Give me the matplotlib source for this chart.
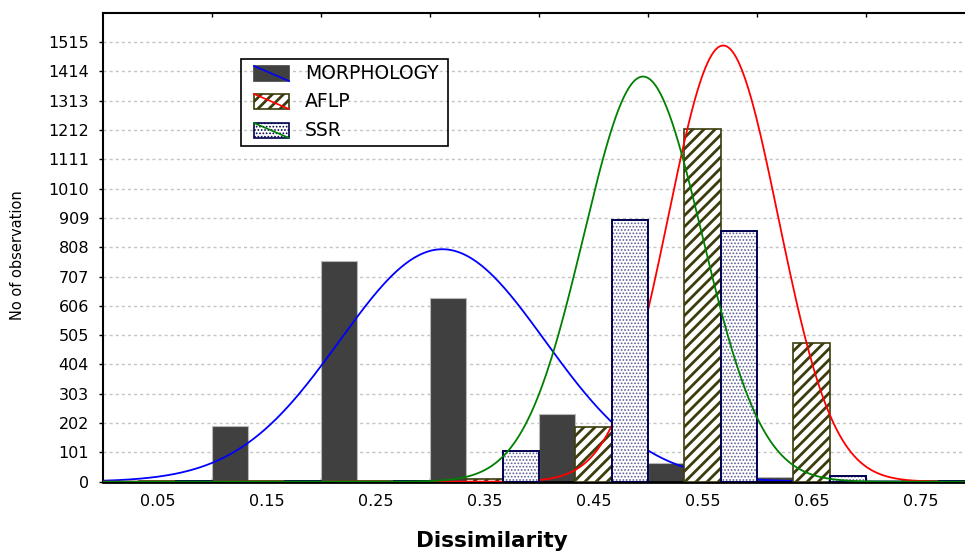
import numpy as np
import matplotlib
matplotlib.use('Agg')
import matplotlib.pyplot as plt
from matplotlib.patches import Rectangle
from matplotlib.lines import Line2D

plt.rcParams['font.family'] = ['DejaVu Sans']

# histogram bins (left edge, width 0.1) and their labels
bin_left = [0.0, 0.1, 0.2, 0.3, 0.4, 0.5, 0.6, 0.7]
bin_labels = ['0.05', '0.15', '0.25', '0.35', '0.45', '0.55', '0.65', '0.75']

# counts
morphology = [3, 191, 762, 632, 232, 64, 15, 6]
aflp = [1, 1, 1, 10, 188, 1215, 478, 2]
ssr = [1, 1, 1, 105, 900, 864, 20, 2]

# fitted normal curves: mean, sd, peak height
morph_fit = (0.3113, 0.0942, 801)
aflp_fit = (0.569, 0.0505, 1503)
ssr_fit = (0.4954, 0.0545, 1396)

yticks = list(range(0, 1516, 101))

W, H = 965, 554
MORPH_C, AFLP_C, SSR_EDGE, SSR_DOT = '#404040', '#3c3c0c', '#000050', '#5c5c96'
AFLP_HLW, SSR_HLW = 2.0, 0.8


def set_hatch_lw(patches, lw):
    for p in patches:
        if hasattr(p, 'set_hatch_linewidth'):
            p.set_hatch_linewidth(lw)


def normal_curve(x, fit):
    mu, sd, peak = fit
    return peak * np.exp(-0.5 * ((x - mu) / sd) ** 2)


def fig_xy(x, y):
    return x / W, 1 - y / H


fig = plt.figure(figsize=(W / 100, H / 100), dpi=100)
ax = fig.add_axes([103 / W, 1 - 481.7 / H, 872 / W, 469 / H])

bw = 0.1 / 3
left = np.array(bin_left)
xs = np.linspace(0, 0.8, 600)

# morphology bars + curve
ax.bar(left, morphology, width=bw, align='edge', color=MORPH_C,
       edgecolor='#b8b8b8', linewidth=0.8, zorder=2)
ax.plot(xs, normal_curve(xs, morph_fit), color='blue', lw=1.3, zorder=2.5)

# aflp bars + curve
plt.rcParams['hatch.linewidth'] = AFLP_HLW
b = ax.bar(left + bw, aflp, width=bw, align='edge', color='white',
           edgecolor=AFLP_C, hatch='///', linewidth=1.2, zorder=3)
set_hatch_lw(b, AFLP_HLW)
ax.plot(xs, normal_curve(xs, aflp_fit), color='red', lw=1.3, zorder=3.5)

# ssr bars (dots + navy outline) + curve
plt.rcParams['hatch.linewidth'] = SSR_HLW
b = ax.bar(left + 2 * bw, ssr, width=bw, align='edge', color='white',
           edgecolor=SSR_DOT, hatch='.....', linewidth=0, zorder=4)
set_hatch_lw(b, SSR_HLW)
ax.bar(left + 2 * bw, ssr, width=bw, align='edge', color='none',
       edgecolor=SSR_EDGE, linewidth=1.4, zorder=4.1)
ax.plot(xs, normal_curve(xs, ssr_fit), color='green', lw=1.3, zorder=4.5)

ax.set_xlim(0, 0.8)
ax.set_ylim(0, 1616)
ax.set_yticks(yticks)
ax.yaxis.grid(True, color='#c4c4c4', linestyle=(0, (2.2, 2.2)), linewidth=1.0)
ax.set_axisbelow(True)

ax.set_xticks(bin_left[1:])
ax.set_xticklabels([])
ax.set_xticks(left + 0.05, minor=True)
ax.set_xticklabels(bin_labels, minor=True)
ax.tick_params(axis='x', which='major', direction='in', top=True, length=3, width=1)
ax.tick_params(axis='x', which='minor', length=0, pad=9, labelsize=11.5)
ax.tick_params(axis='y', direction='out', length=3, width=1, pad=7, labelsize=11.5)

for s in ['left', 'top', 'right']:
    ax.spines[s].set_linewidth(1.5)
ax.spines['bottom'].set_linewidth(2)

fig.text(*fig_xy(18, 255), 'No of observation', rotation=90, ha='center',
         va='center', fontsize=10.5)
fig.text(*fig_xy(492, 541), 'Dissimilarity', ha='center', va='center',
         fontsize=15.5, fontweight='bold')

# legend box drawn by hand
fig.add_artist(Rectangle(fig_xy(241, 146), 207 / W, 87 / H, fill=False,
                         ec='black', lw=1.2, transform=fig.transFigure, zorder=10))
entries = [
    ('MORPHOLOGY', dict(fc=MORPH_C, ec=MORPH_C), 'blue', 66),
    ('AFLP', dict(fc='white', ec=AFLP_C, hatch='///'), 'red', 94),
    ('SSR', dict(fc='white', ec=SSR_EDGE, hatch='.....'), 'green', 123),
]
for name, style, lc, top in entries:
    r = Rectangle(fig_xy(254, top + 15), 35 / W, 15 / H, lw=1.2,
                  transform=fig.transFigure, zorder=10, **style)
    if 'hatch' in style:
        set_hatch_lw([r], AFLP_HLW if name == 'AFLP' else SSR_HLW)
    fig.add_artist(r)
    x0, y0 = fig_xy(254, top)
    x1, y1 = fig_xy(289, top + 15)
    fig.add_artist(Line2D([x0, x1], [y0, y1], color=lc, lw=1.2,
                          transform=fig.transFigure, zorder=11))
    fig.text(*fig_xy(305, top + 7.5), name, va='center', ha='left',
             fontsize=13.5, zorder=11)

fig.savefig('out.png', dpi=100)
